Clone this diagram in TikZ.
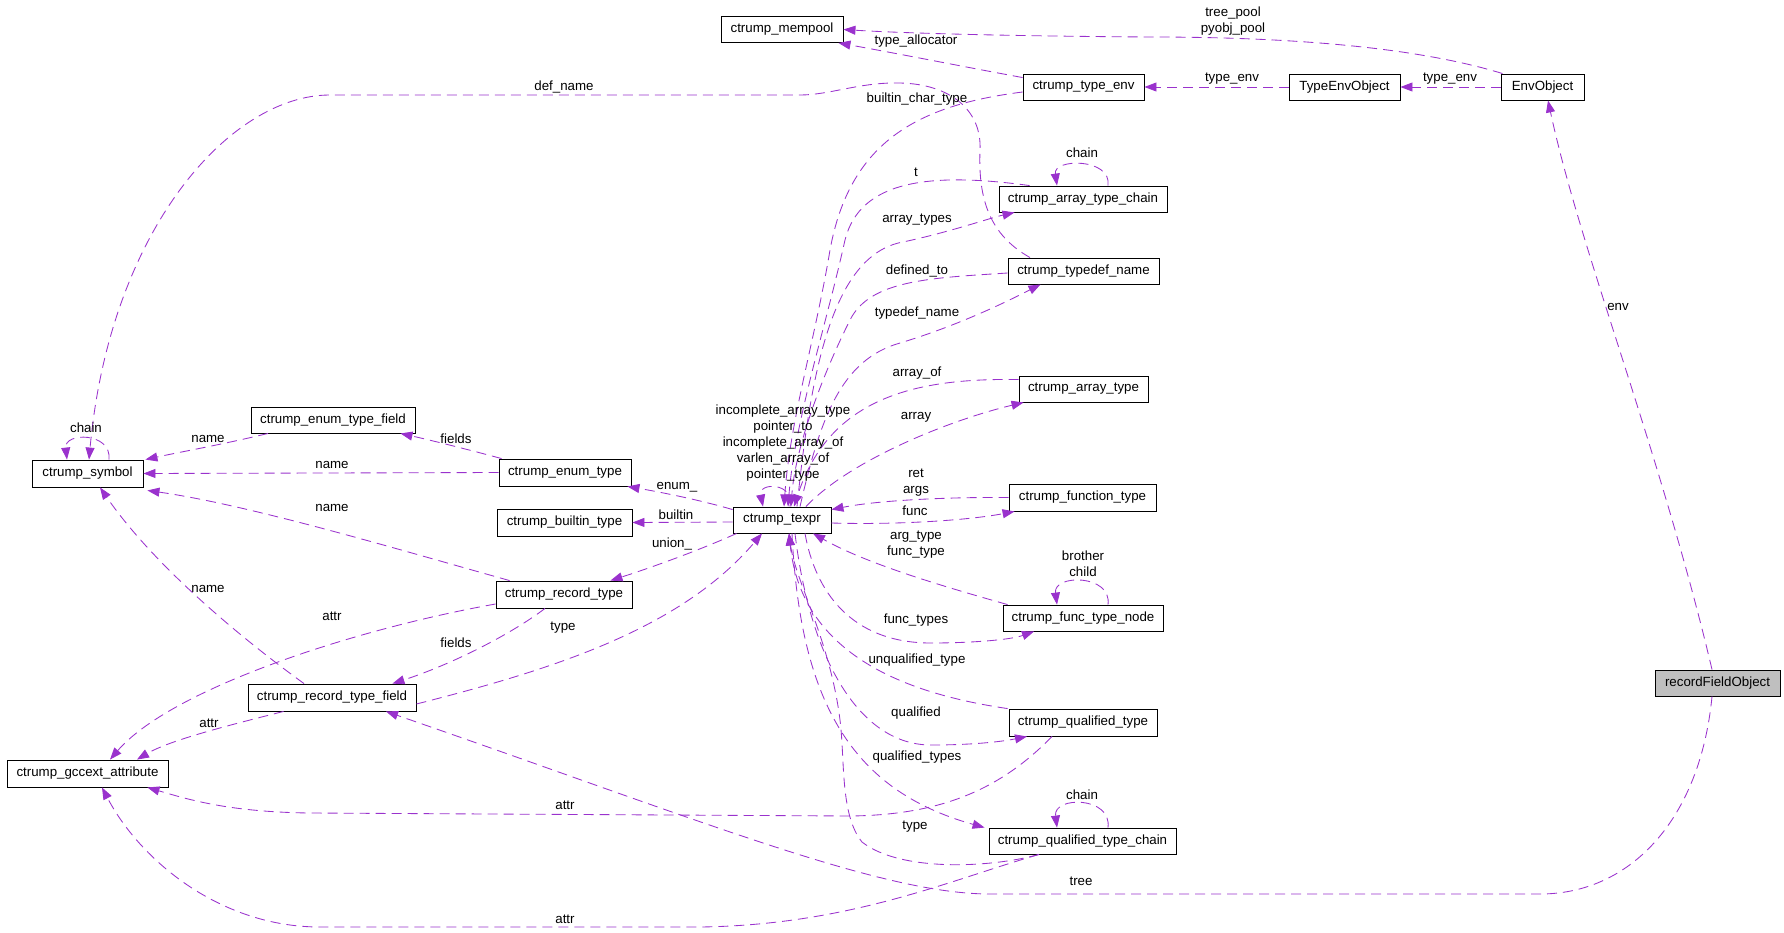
\documentclass[tikz,border=0pt]{standalone}
\usepackage{fontspec}
\setmainfont{Liberation Sans}
\usetikzlibrary{arrows.meta}
\definecolor{edgec}{HTML}{9A32CD}
\definecolor{rootfill}{HTML}{BFBFBF}
\begin{document}
\begin{tikzpicture}[x=1pt,y=-1pt,
  cls/.style={draw=black,line width=0.9pt,inner sep=0pt,minimum height=26pt,font=\fontsize{13.3}{16}\selectfont},
  edge/.style={draw=edgec,line width=0.85pt,dash pattern=on 10pt off 6pt,-{Triangle[length=12pt,width=9pt]}},
  lbl/.style={inner sep=0pt,align=center,font=\fontsize{13.3}{16}\selectfont}]
\useasboundingbox (0,0) rectangle (1784,932);
% nodes
\node[cls,minimum width=122pt] (mempool) at (782,29.5) {ctrump\_mempool};
\node[cls,minimum width=121pt] (tenv) at (1083.5,87) {ctrump\_type\_env};
\node[cls,minimum width=111pt] (tenvobj) at (1344.5,87) {TypeEnvObject};
\node[cls,minimum width=83pt] (envobj) at (1542.5,87) {EnvObject};
\node[cls,minimum width=168pt] (atc) at (1083,199) {ctrump\_array\_type\_chain};
\node[cls,minimum width=151pt] (tdn) at (1083.5,271) {ctrump\_typedef\_name};
\node[cls,minimum width=129pt] (arrt) at (1083.5,389) {ctrump\_array\_type};
\node[cls,minimum width=147pt,minimum height=27pt] (funct) at (1082.5,497.5) {ctrump\_function\_type};
\node[cls,minimum width=98pt] (texpr) at (782,520) {ctrump\_texpr};
\node[cls,minimum width=160pt] (ftn) at (1083,618) {ctrump\_func\_type\_node};
\node[cls,minimum width=148pt,minimum height=27pt] (qt) at (1083,722.5) {ctrump\_qualified\_type};
\node[cls,minimum width=187pt] (qtc) at (1082.5,841) {ctrump\_qualified\_type\_chain};
\node[cls,minimum width=111pt,minimum height=27pt] (symbol) at (87.5,473.5) {ctrump\_symbol};
\node[cls,minimum width=164pt] (etf) at (333,420) {ctrump\_enum\_type\_field};
\node[cls,minimum width=132pt,minimum height=27pt] (enumt) at (565,472.5) {ctrump\_enum\_type};
\node[cls,minimum width=135pt,minimum height=27pt] (builtin) at (564.5,522.5) {ctrump\_builtin\_type};
\node[cls,minimum width=136pt,minimum height=27pt] (rect) at (564,594.5) {ctrump\_record\_type};
\node[cls,minimum width=168pt,minimum height=27pt] (rtf) at (332,697.5) {ctrump\_record\_type\_field};
\node[cls,minimum width=161pt,minimum height=27pt] (gcc) at (87.5,773.5) {ctrump\_gccext\_attribute};
\node[cls,minimum width=125pt,fill=rootfill] (rfo) at (1717.5,683) {recordFieldObject};

% edges
\draw[edge] ([xshift=-40pt]envobj.north) .. controls (1400,42) and (1250,37) .. (1150,37) .. controls (1000,36) and (900,33) .. (mempool.east);
\draw[edge] (envobj.west) -- (tenvobj.east);
\draw[edge] (tenvobj.west) -- (tenv.east);
\draw[edge] ([xshift=-5.5pt]rfo.north) .. controls (1660,450) and (1580,250) .. ([xshift=5.5pt]envobj.south);
\draw[edge] ([xshift=-5.5pt]rfo.south) .. controls (1700,820) and (1630,894) .. (1540,894) -- (990,894) .. controls (880,894) and (700,820) .. ([xshift=54pt]rtf.south);
\draw[edge] ([yshift=-4pt]tenv.north west) .. controls (960,66) and (900,54) .. ([xshift=-5pt]mempool.south east);
\draw[edge] ([xshift=-53.5pt]tdn.north) .. controls (990,235) and (978,200) .. (980,150) .. controls (982,110) and (950,84) .. (900,83) .. controls (860,82) and (830,95) .. (800,95) -- (330,95) .. controls (230,95) and (110,230) .. ([xshift=1.5pt]symbol.north);
\draw[edge] ([xshift=21.5pt]symbol.north) .. controls (112,432) and (64,432) .. ([xshift=-20.5pt]symbol.north);
\draw[edge] ([xshift=-65pt]etf.south) .. controls (220,445) and (180,452) .. ([xshift=2pt]symbol.north east);
\draw[edge] (enumt.west) -- (symbol.east);
\draw[edge] ([xshift=14pt]rect.north west) .. controls (400,550) and (250,505) .. ([xshift=4pt,yshift=-3pt]symbol.south east);
\draw[edge] ([xshift=-28pt]rtf.north) .. controls (230,630) and (150,560) .. ([xshift=12.5pt]symbol.south);
\draw[edge] ([xshift=3pt]enumt.north west) .. controls (470,450) and (430,440) .. ([xshift=-15pt]etf.south east);
\draw[edge] ([xshift=-19pt]rect.south) .. controls (510,635) and (450,665) .. ([xshift=-24pt]rtf.north east);
\draw[edge] ([yshift=-9.5pt]rect.west) .. controls (350,630) and (170,690) .. ([xshift=22.5pt]gcc.north);
\draw[edge] ([xshift=36pt]rtf.south west) .. controls (230,725) and (170,740) .. ([xshift=49.5pt]gcc.north);
\draw[edge] ([xshift=-31pt]qt.south) .. controls (1000,790) and (940,815) .. (850,816) -- (310,813) .. controls (230,812) and (190,800) .. ([xshift=-21pt]gcc.south east);
\draw[edge] ([xshift=-43.5pt]qtc.south) .. controls (950,880) and (850,925) .. (700,927) -- (320,927) .. controls (220,927) and (140,860) .. ([xshift=14.5pt]gcc.south);
% texpr edges
\draw[edge] ([yshift=-3pt]texpr.north west) .. controls (700,500) and (660,492) .. ([xshift=-4pt]enumt.south east);
\draw[edge] ([yshift=-2pt]texpr.west) -- (builtin.east);
\draw[edge] ([xshift=4pt]texpr.south west) .. controls (700,550) and (650,568) .. ([xshift=-22pt]rect.north east);
\draw[edge] ([yshift=-6.5pt]rtf.east) .. controls (550,670) and (680,630) .. ([xshift=-20pt]texpr.south);
\draw[edge] (funct.west) .. controls (950,497) and (880,500) .. ([yshift=-3pt]texpr.north east);
\draw[edge] ([yshift=-3pt]texpr.east) .. controls (900,525) and (970,520) .. ([xshift=6pt]funct.south west);
\draw[edge] ([xshift=5pt]ftn.north west) .. controls (920,580) and (860,560) .. ([xshift=31pt]texpr.south);
\draw[edge] ([xshift=23pt]texpr.south) .. controls (815,590) and (850,643) .. (931,643) .. controls (970,643) and (1010,640) .. ([xshift=-49pt]ftn.south);
\draw[edge] ([xshift=-1pt]qt.north west) .. controls (880,690) and (800,640) .. ([xshift=7pt]texpr.south);
\draw[edge] ([xshift=13pt]texpr.south) .. controls (810,660) and (860,745) .. (931,745) .. controls (970,745) and (1000,742) .. ([xshift=-56pt]qt.south);
\draw[edge] ([xshift=10pt]texpr.south) .. controls (800,700) and (850,790) .. ([xshift=-4pt]qtc.north west);
\draw[edge] ([xshift=-43.5pt]qtc.south) .. controls (990,868) and (900,872) .. (862,842) .. controls (840,815) and (845,760) .. (840,720) .. controls (830,640) and (795,580) .. ([xshift=7pt]texpr.south);
\draw[edge] ([xshift=8pt]texpr.north) .. controls (795,482) and (758,482) .. ([xshift=-19pt]texpr.north);
\draw[edge] ([yshift=-5pt]tenv.west) .. controls (920,105) and (850,140) .. (830,250) .. controls (815,340) and (790,420) .. ([xshift=2pt]texpr.north);
\draw[edge] ([xshift=31pt]atc.north west) .. controls (930,172) and (860,180) .. (845,240) .. controls (825,330) and (795,420) .. ([xshift=6pt]texpr.north);
\draw[edge] ([xshift=15pt]texpr.north) .. controls (810,380) and (830,255) .. (903,242) .. controls (950,232) and (990,218) .. ([xshift=16pt]atc.south west);
\draw[edge] ([yshift=-2pt]tdn.west) .. controls (930,278) and (870,280) .. (850,320) .. controls (820,380) and (795,450) .. ([xshift=9pt]texpr.north);
\draw[edge] ([xshift=18pt]texpr.north) .. controls (820,420) and (840,360) .. (900,343) .. controls (960,325) and (1010,300) .. ([xshift=-43pt]tdn.south);
\draw[edge] ([yshift=-4pt]arrt.north west) .. controls (920,378) and (830,395) .. ([xshift=12pt]texpr.north);
\draw[edge] ([xshift=24pt]texpr.north) .. controls (850,460) and (950,420) .. ([xshift=5pt]arrt.south west);
% self loops
\draw[edge] ([xshift=25pt]atc.north) .. controls (1112,158) and (1053,158) .. ([xshift=-26pt]atc.north);
\draw[edge] ([xshift=25pt]ftn.north) .. controls (1112,574) and (1053,574) .. ([xshift=-26pt]ftn.north);
\draw[edge] ([xshift=25.5pt]qtc.north) .. controls (1112,796) and (1053,796) .. ([xshift=-25.5pt]qtc.north);

% labels
\node[lbl] (l1) at (1233,21) {tree\_pool\\pyobj\_pool};
\node[lbl] (l2) at (1450,79) {type\_env};
\node[lbl] (l3) at (1232,79) {type\_env};
\node[lbl] (l4) at (1618,307) {env};
\node[lbl] (l5) at (1081,881) {tree};
\node[lbl] (l6) at (916,41) {type\_allocator};
\node[lbl] (l7) at (564,87) {def\_name};
\node[lbl] (l8) at (86,428) {chain};
\node[lbl] (l9) at (208,439) {name};
\node[lbl] (l10) at (332,465) {name};
\node[lbl] (l11) at (332,508) {name};
\node[lbl] (l12) at (208,589) {name};
\node[lbl] (l13) at (456,439) {fields};
\node[lbl] (l14) at (456,643) {fields};
\node[lbl] (l15) at (332,616) {attr};
\node[lbl] (l16) at (209,723) {attr};
\node[lbl] (l17) at (565,805) {attr};
\node[lbl] (l18) at (565,919) {attr};
\node[lbl] (l19) at (677,487) {enum\_};
\node[lbl] (l20) at (676,515) {builtin};
\node[lbl] (l21) at (672,544) {union\_};
\node[lbl] (l22) at (563,628) {type};
\node[lbl] (l23) at (783,443) {incomplete\_array\_type\\pointer\_to\\incomplete\_array\_of\\varlen\_array\_of\\pointer\_type};
\node[lbl] (l24) at (916,483) {ret\\args};
\node[lbl] (l25) at (915,511) {func};
\node[lbl] (l26) at (916,545) {arg\_type\\func\_type};
\node[lbl] (l27) at (1083,564) {brother\\child};
\node[lbl] (l28) at (916,620) {func\_types};
\node[lbl] (l29) at (917,660) {unqualified\_type};
\node[lbl] (l30) at (916,713) {qualified};
\node[lbl] (l31) at (917,757) {qualified\_types};
\node[lbl] (l32) at (1082,795) {chain};
\node[lbl] (l33) at (915,827) {type};
\node[lbl] (l34) at (917,99) {builtin\_char\_type};
\node[lbl] (l35) at (916,172) {t};
\node[lbl] (l36) at (917,220) {array\_types};
\node[lbl] (l37) at (917,271) {defined\_to};
\node[lbl] (l38) at (917,313) {typedef\_name};
\node[lbl] (l39) at (917,373) {array\_of};
\node[lbl] (l40) at (916,417) {array};
\node[lbl] (l41) at (1082,153) {chain};
\end{tikzpicture}
\end{document}
